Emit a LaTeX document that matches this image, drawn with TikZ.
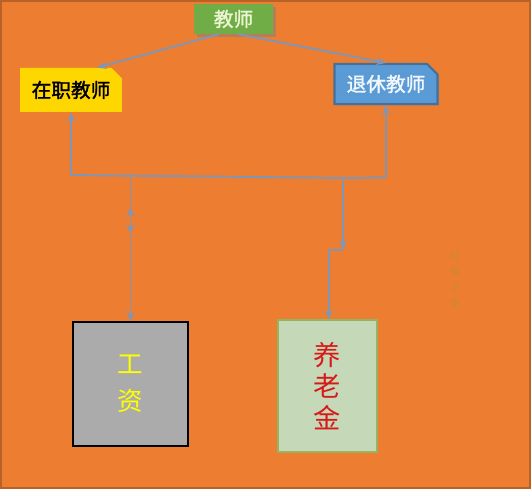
\documentclass[tikz,border=0pt]{standalone}
\usepackage{fontspec}
\newfontfamily\cjk{Noto Sans CJK SC}
\newfontfamily\cjkb[FakeBold=1.6]{Noto Sans CJK SC}
\usetikzlibrary{shapes.misc}
\usetikzlibrary{shadows}
\usetikzlibrary{arrows.meta}
\usetikzlibrary{positioning}

\definecolor{bgorange}{RGB}{237,125,49}
\definecolor{framebrown}{RGB}{185,98,40}
\definecolor{linkblue}{RGB}{128,150,180}
\definecolor{teachgreen}{RGB}{112,173,71}
\definecolor{zzyellow}{RGB}{255,215,0}
\definecolor{rtblue}{RGB}{91,155,213}
\definecolor{rtborder}{RGB}{65,113,156}
\definecolor{gzgray}{RGB}{171,171,171}
\definecolor{ylgreen}{RGB}{197,216,184}
\definecolor{ylborder}{RGB}{150,180,95}
\definecolor{markolive}{RGB}{200,140,45}

\begin{document}
\begin{tikzpicture}[x=0.02cm, y=-0.02cm,
    link/.style={draw=linkblue, line width=1.1pt, -{Stealth[length=5.5pt, width=4.5pt]}},
    snipbox/.style={chamfered rectangle, chamfered rectangle corners=north east,
      chamfered rectangle xsep=3pt, inner sep=0pt, font=\cjkb\fontsize{11.2}{14}\selectfont},
    tallbox/.style={rectangle, inner sep=0pt, align=center}]
          \useasboundingbox (0,0) rectangle (531,489);
          \fill[bgorange] (0,0) rectangle (531,489);
          \draw[framebrown, line width=0.05cm] (1,1) rectangle (530,488);

          \node[rectangle, fill=teachgreen, minimum width=1.58cm, minimum height=0.52cm,
            text={rgb,255:red,235;green,245;blue,210}, font=\cjkb\fontsize{11.2}{14}\selectfont,
            drop shadow={shadow xshift=1.5pt, shadow yshift=-1.5pt, opacity=0.5}] (js) at (233.5,19){教师};
          \node[snipbox, fill=zzyellow, minimum width=2.04cm, minimum height=0.88cm,
            text=black] (zz) at (71,90){在职教师};
          \node[snipbox, fill=rtblue, draw=rtborder, line width=1.2pt, minimum width=2.06cm,
            minimum height=0.8cm, text={rgb,255:red,240;green,246;blue,252},
            drop shadow={shadow xshift=1pt, shadow yshift=-1pt, opacity=0.35}] (rt) at (386,84){退休教师};

          \node[tallbox, fill=gzgray, draw=black, line width=0.8pt, minimum width=2.3cm,
            minimum height=2.48cm, text={rgb,255:red,255;green,255;blue,0},
            font=\cjk\fontsize{14.5}{21}\selectfont] (gz) at (130.5,384){工\\资};
          \node[tallbox, fill=ylgreen, draw=ylborder, line width=0.8pt, minimum width=1.98cm,
            minimum height=2.64cm, text={rgb,255:red,215;green,25;blue,25},
            font=\cjk\fontsize{15.5}{17.8}\selectfont] (yl) at (327.5,386){养\\老\\金};

          \node[tallbox, text=markolive, font=\cjk\fontsize{5.5}{9}\selectfont] (mark) at (455,280){社\\保\\之\\家};

          % junctions of the connector net
          \coordinate (j1) at (71,175);
          \coordinate (j2) at (130.5,175.6);
          \coordinate (j3) at (343,178);
          \coordinate (j4) at (386,177.5);
          \coordinate (j5) at (343,250);
          \coordinate (m0) at (130.5,221);
          \coordinate (m1) at (130.5,207);
          \coordinate (m2) at (130.5,234);

          \draw[link]([xshift=-0.3cm]js.south) -- ([xshift=0.52cm]zz.north);
          \draw[link]([xshift=0.1cm]js.south) -- (rt.north);
          \draw[link](j1) -- (zz.south);
          \draw[link](j4) -- (rt.south);
          \draw[link, -](j1) -- (j3) -- (j4);
          \draw[link](j2) -- (gz.north);
          \draw[link](m0) -- (m1);
          \draw[link](m0) -- (m2);
          \draw[link](j3) -- (j5);
          \draw[link](j5) -| ([xshift=0.03cm]yl.north);
        \end{tikzpicture}
\end{document}
